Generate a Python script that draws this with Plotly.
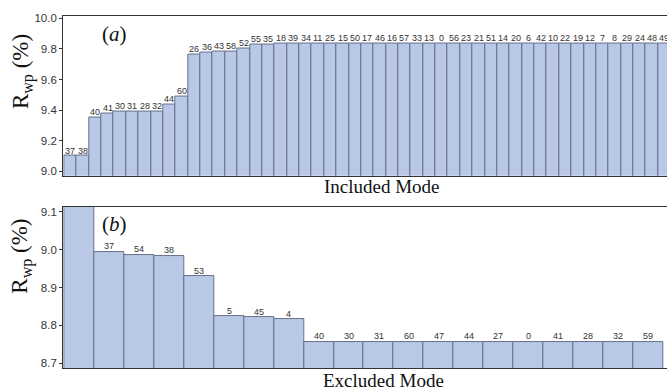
import plotly.graph_objects as go

# Panel (a): R_wp with each mode included, sorted ascending
included_modes = ["37", "38", "40", "41", "30", "31", "28", "32", "44", "60",
                  "26", "36", "43", "58", "52", "55", "35", "18", "39", "34",
                  "11", "25", "15", "50", "17", "46", "16", "57", "33", "13",
                  "0", "56", "23", "21", "51", "14", "20", "6", "42", "10",
                  "22", "19", "12", "7", "8", "29", "24", "48", "49"]
included_rwp = [9.100, 9.100, 9.352, 9.375, 9.388, 9.390, 9.390, 9.392, 9.434, 9.490,
                9.763, 9.775, 9.780, 9.780, 9.800, 9.827, 9.829, 9.834, 9.835, 9.835,
                9.835, 9.835, 9.835, 9.835, 9.835, 9.835, 9.835, 9.835, 9.835, 9.835,
                9.835, 9.835, 9.835, 9.835, 9.835, 9.835, 9.835, 9.835, 9.835, 9.835,
                9.835, 9.835, 9.835, 9.835, 9.835, 9.835, 9.835, 9.835, 9.835]

# Panel (b): R_wp with each mode excluded, sorted descending (first bar unlabeled)
excluded_modes = ["", "37", "54", "38", "53", "5", "45", "4", "40", "30",
                  "31", "60", "47", "44", "27", "0", "41", "28", "32", "59"]
excluded_rwp = [9.200, 8.994, 8.987, 8.984, 8.930, 8.824, 8.821, 8.817, 8.757, 8.757,
                8.757, 8.757, 8.757, 8.757, 8.757, 8.757, 8.757, 8.757, 8.757, 8.757]

a_ticks = [9.0, 9.2, 9.4, 9.6, 9.8, 10.0]
b_ticks = [8.7, 8.8, 8.9, 9.0, 9.1]

W, H = 667, 391
FILL = "#b9c8e6"
EDGE = "#66718a"
AXIS = "#333333"


def px(x):
    return x / W


def py(y):
    return 1 - y / H


fig = go.Figure()
fig.add_trace(go.Bar(
    x=list(range(len(included_rwp))), y=included_rwp,
    marker=dict(color=FILL, line=dict(color=EDGE, width=1)),
    xaxis="x", yaxis="y", showlegend=False,
))
fig.add_trace(go.Bar(
    x=list(range(len(excluded_rwp))), y=excluded_rwp,
    marker=dict(color=FILL, line=dict(color=EDGE, width=1)),
    xaxis="x2", yaxis="y2", showlegend=False,
))

# Mode numbers written just above each bar
label_font = dict(family="Liberation Sans, Arial", size=9, color="#333333")
for xs, ys, labels, xr, yr in ((range(len(included_rwp)), included_rwp, included_modes, "x", "y"),
                               (range(len(excluded_rwp)), excluded_rwp, excluded_modes, "x2", "y2")):
    for xi, yi, lab in zip(xs, ys, labels):
        if not lab:
            continue
        fig.add_annotation(text=lab, x=xi, y=yi, xref=xr, yref=yr, showarrow=False,
                           xanchor="center", yanchor="bottom", yshift=-1.5,
                           font=label_font)

axis_common = dict(showgrid=False, zeroline=False, linecolor=AXIS, linewidth=1.3)
tickfont = dict(family="Liberation Sans, Arial", size=11.5, color="#333333")

fig.update_layout(
    width=W, height=H,
    margin=dict(l=0, r=0, t=0, b=0),
    paper_bgcolor="white", plot_bgcolor="white",
    bargap=0,
    xaxis=dict(domain=[px(63.3), 1.0], range=[-0.58, 48.22], showticklabels=False,
               ticks="", mirror=True, anchor="y", **axis_common),
    yaxis=dict(domain=[py(175), py(12.7)], range=[8.971, 10.018], tickvals=a_ticks,
               ticktext=[f"{v:.1f}" for v in a_ticks], ticks="outside", ticklen=3,
               tickcolor=AXIS, tickfont=tickfont, anchor="x", **axis_common),
    xaxis2=dict(domain=[px(63.3), 1.0], range=[-0.537, 19.63], showticklabels=False,
                ticks="", mirror=True, anchor="y2", **axis_common),
    yaxis2=dict(domain=[py(370), py(206.7)], range=[8.687, 9.1125], tickvals=b_ticks,
                ticktext=[f"{v:.1f}" for v in b_ticks], ticks="outside", ticklen=3,
                tickcolor=AXIS, tickfont=tickfont, anchor="x2", **axis_common),
)

serif = "Liberation Serif, Times New Roman, serif"
annotations = [
    dict(text="Included Mode", x=px(382), y=py(186), size=19),
    dict(text="Excluded Mode", x=px(384), y=py(382), size=19),
    dict(text="(<i>a</i>)", x=px(114), y=py(31), size=21),
    dict(text="(<i>b</i>)", x=px(114), y=py(224), size=21),
]
for a in annotations:
    fig.add_annotation(text=a["text"], x=a["x"], y=a["y"], xref="paper", yref="paper",
                       showarrow=False, xanchor="center", yanchor="middle",
                       font=dict(family=serif, size=a["size"], color="#111111"))

for yc in (70, 257):
    fig.add_annotation(text="R<sub>wp</sub> (%)", x=px(22), y=py(yc), xref="paper",
                       yref="paper", showarrow=False, textangle=-90,
                       xanchor="center", yanchor="middle",
                       font=dict(family=serif, size=23, color="#111111"))

fig.write_html("out.html")
